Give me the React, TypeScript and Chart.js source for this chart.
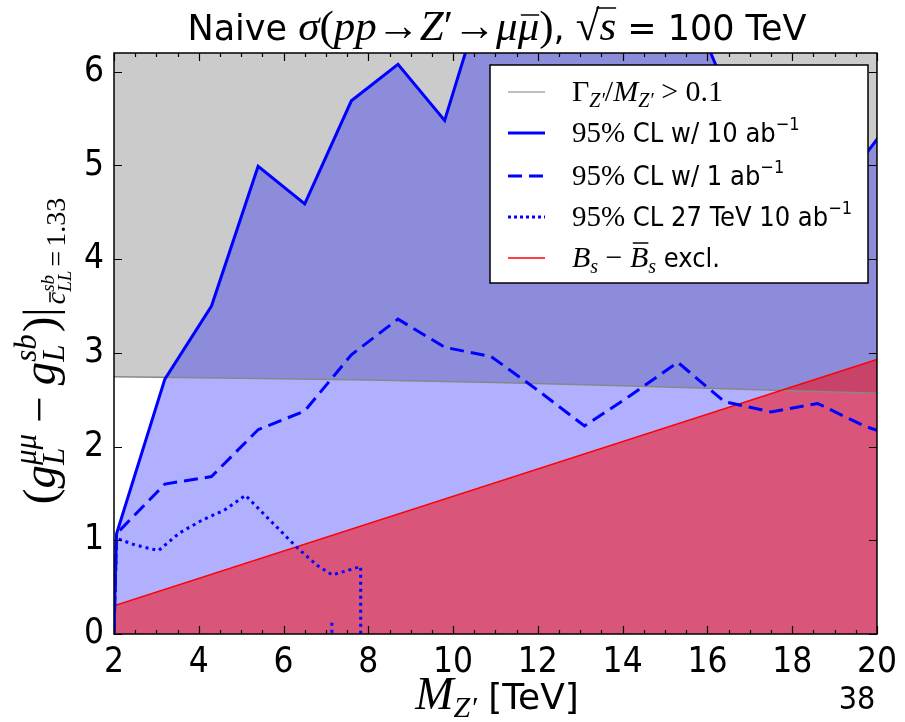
import React, { useEffect, useRef } from 'react';
import { Chart, registerables } from 'chart.js';

Chart.register(...registerables);

// ---------------- data ----------------
const xTickValues = [2, 4, 6, 8, 10, 12, 14, 16, 18, 20];
const yTickValues = [0, 1, 2, 3, 4, 5, 6];

// 95% CL w/ 10 ab^-1 (solid)
const mass10 = [2.0, 2.03, 2.06, 3.2, 4.3, 5.4, 6.5, 7.6, 8.7, 9.8, 10.9, 12.0, 13.1, 14.2, 15.3, 16.4, 17.5, 18.6, 19.7, 20.8];
const limit10 = [0, 0.6, 1.07, 2.72, 3.5, 4.99, 4.59, 5.69, 6.08, 5.48, 7.1, 7.4, 7.1, 7.6, 7.05, 5.85, 5.5, 5.35, 5.1, 5.76];

// 95% CL w/ 1 ab^-1 (dashed)
const mass1 = [2.0, 2.06, 3.2, 4.3, 5.4, 6.5, 7.6, 8.7, 9.8, 10.9, 12.0, 13.1, 14.2, 15.3, 16.4, 17.5, 18.6, 19.7, 20.8];
const limit1 = [0, 1.07, 1.6, 1.68, 2.18, 2.38, 2.98, 3.36, 3.06, 2.96, 2.6, 2.22, 2.55, 2.9, 2.48, 2.37, 2.46, 2.22, 2.05];

// 95% CL 27 TeV 10 ab^-1 (dotted)
const mass27 = [2.0, 2.06, 2.5, 3.05, 3.55, 4.1, 4.6, 5.1, 6.3, 6.8, 7.15, 7.82, 7.82];
const limit27 = [0, 1.02, 0.95, 0.89, 1.08, 1.22, 1.32, 1.48, 0.93, 0.73, 0.63, 0.72, 0];
const mass27Tail = [7.14, 7.14];
const limit27Tail = [0.12, 0];

// Gamma_Z'/M_Z' > 0.1 boundary (gray)
const widthMass = [2, 5, 8, 11, 14, 17, 20];
const widthLimit = [2.745, 2.73, 2.71, 2.685, 2.65, 2.61, 2.57];

// Bs - Bsbar exclusion (red)
const bsMass = [2, 20];
const bsLimit = [0.3, 2.93];

// ---------------- helpers ----------------
const SANS_C = "'DejaVu Sans Condensed', 'DejaVu Sans', sans-serif";
const SANS = "'DejaVu Sans', sans-serif";
const SERIF = "'Liberation Serif', 'DejaVu Serif', serif";
const SC = (n: number) => `${n}px ${SANS_C}`;
const S = (n: number) => `${n}px ${SANS}`;
const R = (n: number) => `${n}px ${SERIF}`;
const I = (n: number) => `italic ${n}px ${SERIF}`;

type Run = { t: string; f: string; dy?: number; st?: boolean; bar?: number; barFrom?: number; gap?: number };

function pts(xs: number[], ys: number[]) {
  return xs.map((x, i) => ({ x, y: ys[i] }));
}

function runsWidth(ctx: CanvasRenderingContext2D, runs: Run[]) {
  let w = 0;
  for (let i = 0; i < runs.length; i++) {
    ctx.font = runs[i].f;
    const a = ctx.measureText(runs[i].t).width;
    if (runs[i].st && i + 1 < runs.length) {
      ctx.font = runs[i + 1].f;
      const b = ctx.measureText(runs[i + 1].t).width;
      w += Math.max(a, b) + (runs[i + 1].gap || 0);
      i++;
    } else w += a + (runs[i].gap || 0);
  }
  return w;
}

function drawRuns(ctx: CanvasRenderingContext2D, runs: Run[], x: number, y: number, align: 'left' | 'center' | 'right') {
  const w = runsWidth(ctx, runs);
  let cx = align === 'left' ? x : align === 'center' ? x - w / 2 : x - w;
  ctx.textAlign = 'left';
  ctx.textBaseline = 'alphabetic';
  for (let i = 0; i < runs.length; i++) {
    const r = runs[i];
    ctx.font = r.f;
    const a = ctx.measureText(r.t).width;
    ctx.fillText(r.t, cx, y + (r.dy || 0));
    if (r.bar !== undefined) {
      ctx.save();
      ctx.lineWidth = 1.5;
      ctx.beginPath();
      const x0 = r.barFrom !== undefined ? cx + r.barFrom : cx + a * 0.15;
      ctx.moveTo(x0, y + (r.dy || 0) - r.bar);
      ctx.lineTo(cx + a * 1.0, y + (r.dy || 0) - r.bar);
      ctx.stroke();
      ctx.restore();
    }
    if (r.st && i + 1 < runs.length) {
      const n = runs[i + 1];
      ctx.font = n.f;
      const b = ctx.measureText(n.t).width;
      ctx.fillText(n.t, cx, y + (n.dy || 0));
      cx += Math.max(a, b) + (n.gap || 0);
      i++;
    } else cx += a + (r.gap || 0);
  }
}

const decorPlugin = {
  id: 'decor',
  afterDraw(chart: any) {
    const ctx: CanvasRenderingContext2D = chart.ctx;
    const { left, right, top, bottom } = chart.chartArea;
    const xs = chart.scales.x;
    const ys = chart.scales.y;
    ctx.save();
    ctx.fillStyle = '#000';
    ctx.strokeStyle = '#000';

    // ticks (inward, all four sides)
    ctx.lineWidth = 1.2;
    ctx.beginPath();
    for (let v = 2; v <= 20.001; v += 0.5) {
      const px = Math.round(xs.getPixelForValue(v)) + 0.5;
      const major = Math.abs(v - Math.round(v)) < 1e-6 && Math.round(v) % 2 === 0;
      const len = major ? 8 : 4;
      ctx.moveTo(px, bottom);
      ctx.lineTo(px, bottom - len);
      ctx.moveTo(px, top);
      ctx.lineTo(px, top + len);
    }
    for (const v of yTickValues) {
      const py = Math.round(ys.getPixelForValue(v)) + 0.5;
      ctx.moveTo(left, py);
      ctx.lineTo(left + 8, py);
      ctx.moveTo(right, py);
      ctx.lineTo(right - 8, py);
    }
    ctx.stroke();

    // frame
    ctx.lineWidth = 1.5;
    ctx.strokeRect(left, top, right - left, bottom - top);

    // legend
    const lx = 490, ly = 65, lw = 378, lh = 218;
    ctx.fillStyle = '#ffffff';
    ctx.fillRect(lx, ly, lw, lh);
    ctx.lineWidth = 1.5;
    ctx.strokeStyle = '#000';
    ctx.strokeRect(lx, ly, lw, lh);
    const rows = [92, 133, 176, 217, 258];
    const sx0 = 508, sx1 = 545;
    const samples: { c: string; w: number; d: number[] }[] = [
      { c: '#a8a8a8', w: 1.5, d: [] },
      { c: '#0000ff', w: 3, d: [] },
      { c: '#0000ff', w: 3, d: [14, 7] },
      { c: '#0000ff', w: 3, d: [3, 3] },
      { c: '#ff0000', w: 1.5, d: [] },
    ];
    samples.forEach((s, i) => {
      ctx.save();
      ctx.strokeStyle = s.c;
      ctx.lineWidth = s.w;
      ctx.setLineDash(s.d);
      ctx.beginPath();
      ctx.moveTo(sx0, rows[i]);
      ctx.lineTo(sx1, rows[i]);
      ctx.stroke();
      ctx.restore();
    });
    ctx.fillStyle = '#000';
    ctx.strokeStyle = '#000';
    const tx = 572;
    const legendRuns: Run[][] = [
      [
        { t: 'Γ', f: R(30) }, { t: 'Z′', f: I(20), dy: 6 }, { t: '/', f: R(30) },
        { t: 'M', f: I(30) }, { t: 'Z′', f: I(20), dy: 6 }, { t: ' > 0.1', f: R(30) },
      ],
      [{ t: '95%', f: R(29) }, { t: ' CL w/ 10 ab', f: SC(27) }, { t: '−1', f: SC(18), dy: -12 }],
      [{ t: '95%', f: R(29) }, { t: ' CL w/ 1 ab', f: SC(27) }, { t: '−1', f: SC(18), dy: -12 }],
      [{ t: '95%', f: R(29) }, { t: ' CL 27 TeV 10 ab', f: SC(27) }, { t: '−1', f: SC(18), dy: -12 }],
      [
        { t: 'B', f: I(30) }, { t: 's', f: I(20), dy: 6 }, { t: ' − ', f: R(30) },
        { t: 'B', f: I(30), bar: 24 }, { t: 's', f: I(20), dy: 6 }, { t: ' excl.', f: SC(27) },
      ],
    ];
    legendRuns.forEach((r, i) => drawRuns(ctx, r, tx, rows[i] + 9, 'left'));

    // title
    const titleRuns: Run[] = [
      { t: 'Naive ', f: S(35) },
      { t: 'σ', f: I(43) }, { t: '(', f: R(43) }, { t: 'pp', f: I(43) }, { t: '→', f: R(43) },
      { t: 'Z', f: I(43) }, { t: '′', f: R(43) }, { t: '→', f: R(43) },
      { t: 'μ', f: I(43) }, { t: 'μ', f: I(43), bar: 25 }, { t: ')', f: R(43) },
      { t: ', ', f: S(35) },
      { t: '√', f: R(43) }, { t: 's', f: I(43), bar: 32, barFrom: -3 },
      { t: ' = 100 TeV', f: S(35) },
    ];
    drawRuns(ctx, titleRuns, 497, 40, 'center');

    // x axis title
    const xRuns: Run[] = [
      { t: 'M', f: I(46) }, { t: 'Z′', f: I(30), dy: 8 }, { t: ' [TeV]', f: S(36) },
    ];
    drawRuns(ctx, xRuns, 497, 709, 'center');

    // slide number
    ctx.font = SC(32);
    ctx.textAlign = 'center';
    ctx.fillText('38', 857, 709);

    // y axis title (rotated), centred on the axes
    ctx.save();
    ctx.translate(55, 351);
    ctx.rotate(-Math.PI / 2);
    const yRuns: Run[] = [
      { t: '(', f: R(47) }, { t: 'g', f: I(47) },
      { t: 'L', f: I(31), dy: 9, st: true }, { t: 'μμ', f: I(31), dy: -19, gap: 11 },
      { t: '−', f: R(47), gap: 11 }, { t: 'g', f: I(47) },
      { t: 'L', f: I(31), dy: 9, st: true }, { t: 'sb', f: I(31), dy: -19, gap: 2 },
      { t: ')', f: R(47) }, { t: '|', f: R(47), gap: 3 },
      { t: 'c', f: I(28), dy: 10, bar: 15 },
      { t: 'LL', f: I(19), dy: 16, st: true }, { t: 'sb', f: I(19), dy: -1, gap: 4 },
      { t: '=', f: R(28), dy: 10, gap: 4 },
      { t: '1.33', f: R(28), dy: 10 },
    ];
    drawRuns(ctx, yRuns, 0, 0, 'center');
    ctx.restore();

    ctx.restore();
  },
};

export default function App() {
  const ref = useRef<HTMLCanvasElement | null>(null);
  useEffect(() => {
    if (!ref.current) return;
    const dotted = [
      ...pts(mass27, limit27),
      { x: 7.5, y: null as any },
      ...pts(mass27Tail, limit27Tail),
    ];
    const tickFont = { family: SANS_C, size: 35 };
    const chart = new Chart(ref.current, {
      type: 'line',
      data: {
        datasets: [
          {
            label: '95% CL 27 TeV 10 ab^-1',
            data: dotted,
            borderColor: '#0000ff',
            borderWidth: 3,
            borderDash: [3, 4],
            pointRadius: 0,
            fill: false,
            spanGaps: false,
            clip: 0,
          },
          {
            label: '95% CL w/ 1 ab^-1',
            data: pts(mass1, limit1),
            borderColor: '#0000ff',
            borderWidth: 3,
            borderDash: [14, 7],
            pointRadius: 0,
            fill: false,
            clip: 0,
          },
          {
            label: 'Bs - Bsbar excl.',
            data: pts(bsMass, bsLimit),
            borderColor: '#ff0000',
            borderWidth: 1.5,
            pointRadius: 0,
            fill: 'origin',
            backgroundColor: 'rgba(255,0,0,0.52)',
            clip: 0,
          },
          {
            label: '95% CL w/ 10 ab^-1',
            data: pts(mass10, limit10),
            borderColor: '#0000ff',
            borderWidth: 3,
            pointRadius: 0,
            fill: 'origin',
            backgroundColor: 'rgba(0,0,255,0.31)',
            clip: 0,
          },
          {
            label: 'Gamma/M > 0.1',
            data: pts(widthMass, widthLimit),
            borderColor: '#888888',
            borderWidth: 1.5,
            pointRadius: 0,
            fill: 'end',
            backgroundColor: '#cbcbcb',
            clip: 0,
          },
        ] as any,
      },
      options: {
        animation: false,
        responsive: false,
        devicePixelRatio: 1,
        layout: { padding: { top: 53, right: 25, left: 0, bottom: 0 } },
        plugins: {
          legend: { display: false },
          title: { display: false },
          tooltip: { enabled: false },
          filler: { drawTime: 'beforeDatasetsDraw', propagate: false },
        } as any,
        scales: {
          x: {
            type: 'linear',
            min: 2,
            max: 20,
            grid: { display: false, drawTicks: false },
            border: { display: false },
            ticks: { font: tickFont, color: '#000', padding: 8, maxRotation: 0, autoSkip: false },
            afterBuildTicks: (s: any) => { s.ticks = xTickValues.map((v) => ({ value: v })); },
            afterFit: (s: any) => { s.height = 88; },
          },
          y: {
            type: 'linear',
            min: 0,
            max: 6.2,
            grid: { display: false, drawTicks: false },
            border: { display: false },
            ticks: { font: tickFont, color: '#000', padding: 10, autoSkip: false },
            afterBuildTicks: (s: any) => { s.ticks = yTickValues.map((v) => ({ value: v })); },
            afterFit: (s: any) => { s.width = 114; },
          },
        } as any,
      },
      plugins: [decorPlugin],
    });
    return () => chart.destroy();
  }, []);
  return (
    <div style={{ position: 'absolute', left: 0, top: 0, width: 905, height: 722, background: '#fff' }}>
      <canvas ref={ref} width={905} height={722} style={{ display: 'block' }} />
    </div>
  );
}
